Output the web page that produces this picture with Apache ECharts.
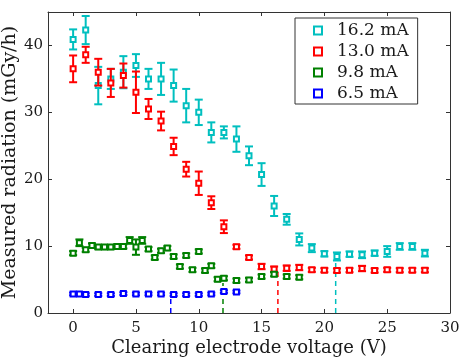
<!DOCTYPE html>
<html>
<head>
<meta charset="utf-8">
<script src="https://cdn.jsdelivr.net/npm/echarts@6/dist/echarts.min.js"></script>
<style>
  html, body { margin: 0; padding: 0; background: #fff; }
  #chart { width: 463px; height: 361px; }
</style>
</head>
<body>
<div id="chart"></div>
<script>
// legend order = plot order (later ones drawn on top)
const seriesNames = ["16.2 mA", "13.0 mA", "9.8 mA", "6.5 mA"];
const seriesColors = ["#00bfbf", "#ff0000", "#008000", "#0000ff"];

// 16.2 mA
const cyanX = [0, 1, 2, 3, 4, 5, 6, 7, 8, 9, 10, 11, 12, 13, 14, 15, 16, 17, 18, 19, 20, 21, 22, 23, 24, 25, 26, 27, 28];
const cyanY = [40.9, 42.3, 34.0, 35.0, 36.0, 37.0, 35.0, 35.0, 34.0, 31.0, 30.0, 27.0, 27.0, 26.0, 23.5, 20.7, 16.0, 14.0, 11.0, 9.7, 8.85, 8.45, 8.8, 8.7, 8.95, 9.2, 9.95, 9.95, 8.95];
const cyanErr = [1.5, 2.1, 2.8, 1.5, 2.4, 1.7, 1.5, 2.4, 2.4, 2.5, 1.9, 1.5, 0.9, 1.9, 1.4, 1.7, 1.5, 0.8, 0.9, 0.6, 0.4, 0.6, 0.4, 0.5, 0.4, 0.8, 0.5, 0.5, 0.5];

// 13.0 mA
const redX = [0, 1, 2, 3, 4, 5, 6, 7, 8, 9, 10, 11, 12, 13, 14, 15, 16, 17, 18, 19, 20, 21, 22, 23, 24, 25, 26, 27, 28];
const redY = [36.5, 38.6, 36.0, 34.4, 35.5, 33.0, 30.5, 28.7, 24.9, 21.5, 19.4, 16.5, 12.9, 9.9, 8.3, 6.95, 6.55, 6.7, 6.8, 6.45, 6.4, 6.35, 6.4, 6.65, 6.35, 6.45, 6.4, 6.4, 6.4];
const redErr = [2.0, 1.2, 2.0, 2.1, 1.8, 3.1, 1.5, 1.4, 1.3, 1.1, 1.75, 0.95, 0.95, 0.3, 0.3, 0.4, 0.4, 0.4, 0.4, 0.3, 0.3, 0.3, 0.3, 0.4, 0.3, 0.3, 0.3, 0.3, 0.3];

// 9.8 mA
const greenX = [0, 0.5, 1, 1.5, 2, 2.5, 3, 3.5, 4, 4.5, 5, 5.5, 6, 6.5, 7, 7.5, 8, 8.5, 9, 9.5, 10, 10.5, 11, 11.5, 12, 13, 14, 15, 16, 17, 18];
const greenY = [8.95, 10.5, 9.45, 10.1, 9.85, 9.85, 9.85, 9.95, 9.95, 10.85, 9.85, 10.85, 9.55, 8.3, 9.3, 9.7, 8.45, 6.95, 8.6, 6.45, 9.2, 6.35, 7.05, 5.05, 5.2, 4.85, 4.95, 5.45, 5.8, 5.45, 5.35];
const greenErr = [0.3, 0.5, 0.3, 0.3, 0.3, 0.3, 0.3, 0.3, 0.3, 0.5, 1.15, 0.5, 0.3, 0.3, 0.3, 0.3, 0.3, 0.3, 0.3, 0.3, 0.3, 0.3, 0.3, 0.3, 0.3, 0.3, 0.3, 0.3, 0.3, 0.3, 0.3];

// 6.5 mA
const blueX = [0, 0.5, 1, 2, 3, 4, 5, 6, 7, 8, 9, 10, 11, 12, 13];
const blueY = [2.85, 2.85, 2.75, 2.75, 2.75, 2.9, 2.85, 2.85, 2.85, 2.75, 2.75, 2.75, 2.85, 3.2, 3.15];
const blueErr = [0.2, 0.2, 0.2, 0.2, 0.2, 0.2, 0.2, 0.2, 0.2, 0.2, 0.2, 0.2, 0.2, 0.2, 0.2];

// dashed threshold markers (blue, green, red, cyan)
const thresholdX = [7.77, 11.93, 16.3, 20.9];
const thresholdTop = [2.6, 4.5, 6.2, 7.9];
const thresholdColors = ["#0000ff", "#008000", "#ff0000", "#00bfbf"];

const xTicks = [0, 5, 10, 15, 20, 25, 30];
const yTicks = [0, 10, 20, 30, 40];

const font = "DejaVu Serif";
const axisColor = "#333";

const groups = [
  { x: cyanX, y: cyanY, err: cyanErr },
  { x: redX, y: redY, err: redErr },
  { x: greenX, y: greenY, err: greenErr },
  { x: blueX, y: blueY, err: blueErr }
];

function renderBars(color) {
  return function (params, api) {
    const x = api.value(0);
    const y = api.value(1);
    const e = api.value(2);
    const hi = api.coord([x, y + e]);
    const lo = api.coord([x, y - e]);
    const cap = 4;
    const style = { stroke: color, lineWidth: 2, fill: null };
    return {
      type: "group",
      children: [
        { type: "line", shape: { x1: hi[0], y1: hi[1], x2: lo[0], y2: lo[1] }, style: style },
        { type: "line", shape: { x1: hi[0] - cap, y1: hi[1], x2: hi[0] + cap, y2: hi[1] }, style: style },
        { type: "line", shape: { x1: lo[0] - cap, y1: lo[1], x2: lo[0] + cap, y2: lo[1] }, style: style }
      ]
    };
  };
}

const series = [];

// dashed lines first, under the data
thresholdX.forEach(function (tx, i) {
  series.push({
    type: "line",
    name: "threshold" + i,
    data: [[tx, 0], [tx, thresholdTop[i]]],
    showSymbol: false,
    silent: true,
    z: 1,
    lineStyle: { color: thresholdColors[i], width: 1.5, type: [5, 4] }
  });
});

groups.forEach(function (g, i) {
  const color = seriesColors[i];
  series.push({
    type: "custom",
    name: seriesNames[i],
    renderItem: renderBars(color),
    encode: { x: 0, y: 1 },
    data: g.x.map(function (v, k) { return [v, g.y[k], g.err[k]]; }),
    z: 2 + i * 2
  });
  series.push({
    type: "scatter",
    name: seriesNames[i],
    symbol: "rect",
    symbolSize: 5,
    data: g.x.map(function (v, k) { return [v, g.y[k]]; }),
    itemStyle: { color: "#fff", borderColor: color, borderWidth: 2, opacity: 1 },
    z: 3 + i * 2
  });
});

const option = {
  backgroundColor: "#fff",
  animation: false,
  grid: { left: 48, right: 13, top: 12, bottom: 48, outerBoundsMode: "none", containLabel: false },
  legend: {
    orient: "vertical",
    left: 295,
    top: 18,
    padding: [4, 9, 2, 18],
    itemWidth: 8,
    itemHeight: 8,
    itemGap: 4,
    backgroundColor: "#fff",
    borderColor: axisColor,
    borderWidth: 1,
    borderRadius: 0,
    selectedMode: false,
    textStyle: { fontFamily: font, fontSize: 17, color: "#1a1a1a", lineHeight: 16, padding: [0, 0, 0, 10] },
    data: seriesNames.map(function (n, i) {
      return {
        name: n,
        icon: "rect",
        itemStyle: { color: "#fff", borderColor: seriesColors[i], borderWidth: 2 }
      };
    })
  },
  xAxis: [
    {
      type: "value",
      min: -2,
      max: 30,
      position: "bottom",
      name: "Clearing electrode voltage (V)",
      nameLocation: "middle",
      nameGap: 26,
      nameMoveOverlap: false,
      nameTextStyle: { fontFamily: font, fontSize: 18, color: "#1a1a1a" },
      axisLine: { show: true, onZero: false, lineStyle: { color: axisColor, width: 1 } },
      axisTick: { show: true, inside: true, length: 4, customValues: xTicks, lineStyle: { color: axisColor } },
      axisLabel: { customValues: xTicks, margin: 8, fontFamily: font, fontSize: 15, color: "#1a1a1a" },
      splitLine: { show: false }
    },
    {
      type: "value",
      min: -2,
      max: 30,
      position: "top",
      axisLine: { show: true, onZero: false, lineStyle: { color: axisColor, width: 1 } },
      axisTick: { show: true, inside: true, length: 4, customValues: xTicks, lineStyle: { color: axisColor } },
      axisLabel: { show: false },
      splitLine: { show: false }
    }
  ],
  yAxis: [
    {
      type: "value",
      min: 0,
      max: 45,
      position: "left",
      name: "Measured radiation (mGy/h)",
      nameLocation: "middle",
      nameRotate: 90,
      nameGap: 28,
      nameMoveOverlap: false,
      nameTextStyle: { fontFamily: font, fontSize: 19, color: "#1a1a1a" },
      axisLine: { show: true, onZero: false, lineStyle: { color: axisColor, width: 1 } },
      axisTick: { show: true, inside: true, length: 4, customValues: yTicks, lineStyle: { color: axisColor } },
      axisLabel: { customValues: yTicks, margin: 5, fontFamily: font, fontSize: 15, color: "#1a1a1a" },
      splitLine: { show: false }
    },
    {
      type: "value",
      min: 0,
      max: 45,
      position: "right",
      axisLine: { show: true, onZero: false, lineStyle: { color: axisColor, width: 1 } },
      axisTick: { show: true, inside: true, length: 4, customValues: yTicks, lineStyle: { color: axisColor } },
      axisLabel: { show: false },
      splitLine: { show: false }
    }
  ],
  series: series
};

const chart = echarts.init(document.getElementById("chart"), null, { renderer: "canvas" });
chart.setOption(option);
</script>
</body>
</html>
